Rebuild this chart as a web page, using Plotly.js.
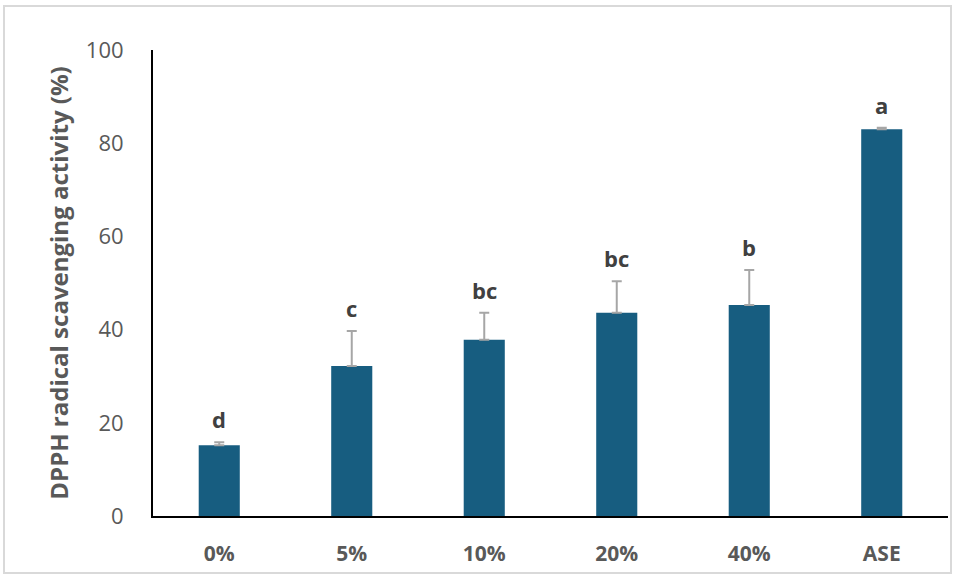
<!DOCTYPE html>
<html><head><meta charset="utf-8">
<script src="https://cdn.plot.ly/plotly-3.0.1.min.js"></script>
<style>body{margin:0;background:#fff}#frame{position:absolute;left:3px;top:5px;width:945px;height:565px;border:2px solid #d9d9d9;pointer-events:none}</style>
</head><body>
<div id="chart" style="width:954px;height:578px;"></div>
<div id="frame"></div>
<script>
const categories = ['0%', '5%', '10%', '20%', '40%', 'ASE'];
const values = [15.2, 32.2, 37.8, 43.6, 45.3, 83.0];
const errors = [0.6, 7.5, 5.8, 6.8, 7.5, 0.3];
const letters = ['d', 'c', 'bc', 'bc', 'b', 'a'];
const yTicks = [0, 20, 40, 60, 80, 100];

const FONT = '"Open Sans", Lato, sans-serif';
const trace = {
  type: 'bar', x: categories, y: values, width: 0.31,
  marker: {color: '#175d80'},
  error_y: {type: 'data', array: errors, visible: true, symmetric: false, arrayminus: errors.map(() => 0),
            color: '#a6a6a6', thickness: 2, width: 5}
};
const annotations = categories.map((c, i) => ({
  x: c, y: values[i] + errors[i], text: letters[i], showarrow: false,
  yanchor: 'bottom', yshift: 6,
  font: {family: FONT, size: 22, color: '#404040', weight: 'bold'}
}));
const layout = {
  width: 954, height: 578,
  margin: {l: 153, r: 6, t: 50, b: 62},
  paper_bgcolor: '#fff', plot_bgcolor: '#fff',
  showlegend: false,
  xaxis: {type: 'category', showline: true, linecolor: '#000', linewidth: 2, ticks: '', showgrid: false,
          tickfont: {family: FONT, size: 21, color: '#595959', weight: 'bold'},
          ticklabelstandoff: 18},
  yaxis: {range: [0, 100], tickvals: yTicks, showline: true, linecolor: '#000', linewidth: 2,
          ticks: '', showgrid: false, zeroline: false,
          tickfont: {family: FONT, size: 22, color: '#595959'},
          ticklabelstandoff: 23,
          title: {text: 'DPPH radical scavenging activity (%)', standoff: 10,
                  font: {family: FONT, size: 24, color: '#595959', weight: 'bold'}}},
  annotations: annotations
};
Plotly.newPlot('chart', [trace], layout, {displayModeBar: false, staticPlot: true});
</script>
</body></html>
